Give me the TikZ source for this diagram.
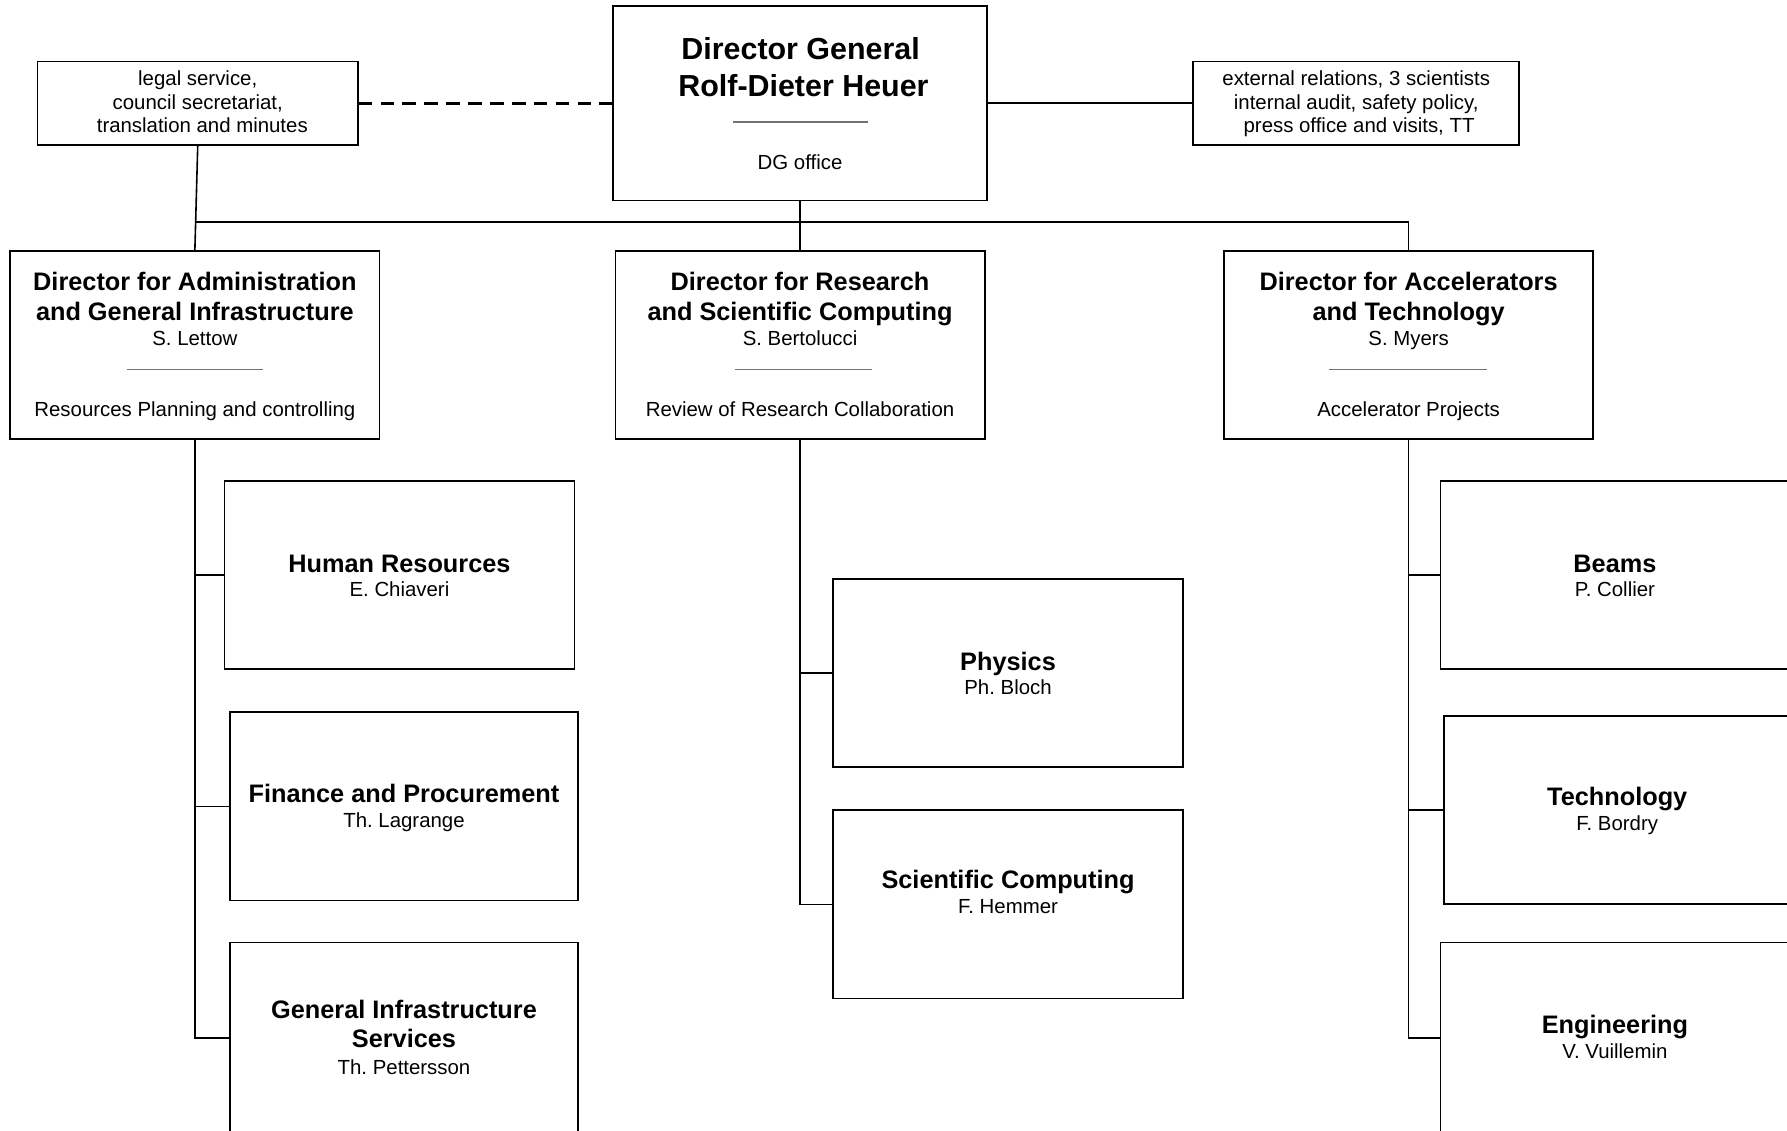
\documentclass[tikz,border=0pt]{standalone}
\usepackage{fontspec}
\setmainfont{Liberation Sans}
\frenchspacing
\begin{document}
\begin{tikzpicture}[x=0.5pt,y=-0.5pt,
  box/.style={draw,line width=0.75pt,inner sep=0pt,minimum height=82.5pt},
  small/.style={box,minimum height=36.5pt},
  conn/.style={line width=0.7pt},
  dashconn/.style={line width=1.3pt,dash pattern=on 6pt off 3.6pt},
  rulel/.style={line width=0.55pt,black!55},
  big/.style={anchor=base,inner sep=0pt,font=\fontsize{13.35}{16}\selectfont\bfseries},
  bt/.style={anchor=base,inner sep=0pt,font=\fontsize{11.1}{13}\selectfont\bfseries},
  nt/.style={anchor=base,inner sep=0pt,font=\fontsize{8.95}{10.5}\selectfont}]
\useasboundingbox (0,0) rectangle (1568,992);
\clip (0,0) rectangle (1568,992);
% boxes
\node[small,minimum width=140.5pt] (legal) at (173.5,90.5) {};
\node[box,minimum width=164pt,minimum height=85.5pt] (dg) at (702,90.5) {};
\node[small,minimum width=143pt] (ext) at (1190,90.5) {};
\node[box,minimum width=162pt] (admin) at (171,302.5) {};
\node[box,minimum width=162pt] (research) at (702,302.5) {};
\node[box,minimum width=162pt] (accel) at (1236,302.5) {};
\node[box,minimum width=153.5pt] (hr) at (350.5,504.5) {};
\node[box,minimum width=152.5pt] (fin) at (354.5,707.5) {};
\node[box,minimum width=152.5pt,minimum height=84pt] (gis) at (354.5,911) {};
\node[box,minimum width=153.5pt] (phys) at (884.5,590.5) {};
\node[box,minimum width=153.5pt] (sc) at (884.5,793.5) {};
\node[box,minimum width=153pt] (beams) at (1417,504.5) {};
\node[box,minimum width=152pt] (tech) at (1419,710.5) {};
\node[box,minimum width=153pt,minimum height=84pt] (eng) at (1417,911) {};
% texts
\node[nt] (legal1) at (173.5,75.4) {legal service,};
\node[nt] (legal2) at (173.5,96.4) {council secretariat,};
\node[nt] (legal3) at (177.5,116.4) {translation and minutes};
\node[nt] (ext1) at (1190,75.4) {external relations, 3 scientists};
\node[nt] (ext2) at (1190,96.4) {internal audit, safety policy,};
\node[nt] (ext3) at (1192.5,116.4) {press office and visits, TT};
\node[big] (dg1) at (702.5,52.6) {Director General};
\node[big] (dg2) at (705,84.6) {Rolf-Dieter Heuer};
\node[nt] (dg3) at (702,148.4) {DG office};
\draw[rulel] (643,107) -- (762,107);
\node[bt] (ad1) at (171,255) {Director for Administration};
\node[bt] (ad2) at (171,281) {and General Infrastructure};
\node[nt] (ad3) at (171,303.4) {S. Lettow};
\node[nt] (ad4) at (171,365.4) {Resources Planning and controlling};
\draw[rulel] (111,324) -- (231,324);
\node[bt] (re1) at (702,255) {Director for Research};
\node[bt] (re2) at (702,281) {and Scientific Computing};
\node[nt] (re3) at (702,303.4) {S. Bertolucci};
\node[nt] (re4) at (702,365.4) {Review of Research Collaboration};
\draw[rulel] (645,324) -- (765,324);
\node[bt] (ac1) at (1236,255) {Director for Accelerators};
\node[bt] (ac2) at (1236,281) {and Technology};
\node[nt] (ac3) at (1236,303.4) {S. Myers};
\node[nt] (ac4) at (1236,365.4) {Accelerator Projects};
\draw[rulel] (1166,324) -- (1305,324);
\node[bt] (hr1) at (350.5,502) {Human Resources};
\node[nt] (hr2) at (350.5,523.4) {E. Chiaveri};
\node[bt] (fin1) at (354.5,704) {Finance and Procurement};
\node[nt] (fin2) at (354.5,726.4) {Th. Lagrange};
\node[bt] (gis1) at (354.5,894) {General Infrastructure};
\node[bt] (gis2) at (354.5,919) {Services};
\node[nt] (gis3) at (354.5,942.4) {Th. Pettersson};
\node[bt] (ph1) at (884.5,588) {Physics};
\node[nt] (ph2) at (884.5,609.4) {Ph. Bloch};
\node[bt] (sc1) at (884.5,780) {Scientific Computing};
\node[nt] (sc2) at (884.5,801.4) {F. Hemmer};
\node[bt] (be1) at (1417,502) {Beams};
\node[nt] (be2) at (1417,523.4) {P. Collier};
\node[bt] (te1) at (1419,707) {Technology};
\node[nt] (te2) at (1419,728.4) {F. Bordry};
\node[bt] (en1) at (1417,907) {Engineering};
\node[nt] (en2) at (1417,928.4) {V. Vuillemin};
% connectors
\coordinate (bus) at (0,195);
\draw[dashconn] (legal.east) -- (dg.west);
\draw[conn] (dg.east) -- (ext.west);
\draw[conn] (legal.south) -- (admin.north);
\draw[conn] (admin.north |- bus) -| (accel.north);
\draw[conn] (dg.south) -- (research.north);
\draw[conn] (admin.south) |- (gis.west);
\draw[conn] (admin.south |- hr.west) -- (hr.west);
\draw[conn] (admin.south |- fin.west) -- (fin.west);
\draw[conn] (research.south) |- (sc.west);
\draw[conn] (research.south |- phys.west) -- (phys.west);
\draw[conn] (accel.south) |- (eng.west);
\draw[conn] (accel.south |- beams.west) -- (beams.west);
\draw[conn] (accel.south |- tech.west) -- (tech.west);
\end{tikzpicture}
\end{document}
